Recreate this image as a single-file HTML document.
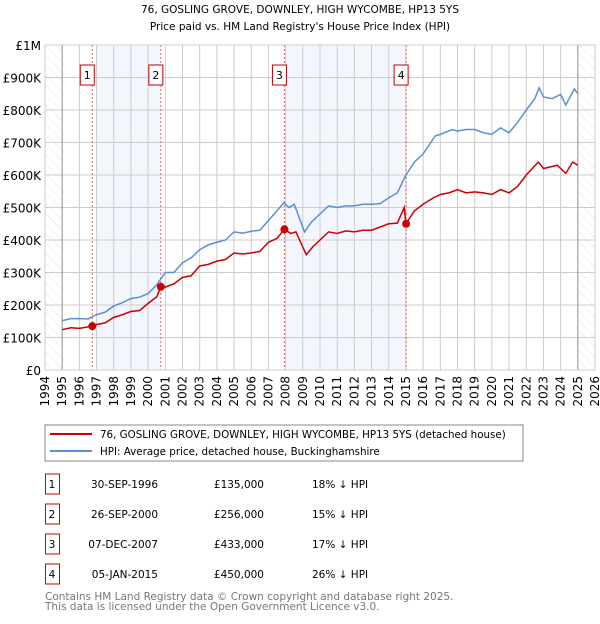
<!DOCTYPE html>
<html><head><meta charset="utf-8"><style>
body{margin:0;background:#fff;font-family:"DejaVu Sans","Liberation Sans",sans-serif;}
svg text{font-family:"DejaVu Sans","Liberation Sans",sans-serif;}
</style></head><body>
<svg id="c" width="600" height="620" xmlns="http://www.w3.org/2000/svg">
<defs><pattern id="hatch" width="7" height="7" patternUnits="userSpaceOnUse" patternTransform="rotate(-45)"><line x1="0" y1="0" x2="0" y2="7" stroke="#ddd" stroke-width="0.8"/></pattern></defs>
<text x="300" y="13" text-anchor="middle" font-size="10.5">76, GOSLING GROVE, DOWNLEY, HIGH WYCOMBE, HP13 5YS</text>
<text x="300" y="30" text-anchor="middle" font-size="10.5">Price paid vs. HM Land Registry's House Price Index (HPI)</text>
<g id="plot"></g>
<rect x="45" y="425" width="478" height="36" fill="none" stroke="#888"/>
<line x1="50" y1="434" x2="92" y2="434" stroke="#cc0000" stroke-width="2"/>
<text x="100" y="438" font-size="10.3">76, GOSLING GROVE, DOWNLEY, HIGH WYCOMBE, HP13 5YS (detached house)</text>
<line x1="50" y1="451" x2="92" y2="451" stroke="#5b8fd4" stroke-width="2"/>
<text x="100" y="455" font-size="10.3">HPI: Average price, detached house, Buckinghamshire</text>
<g id="table" font-size="10.5"></g>
<text x="45" y="600" font-size="10.5" fill="#777">Contains HM Land Registry data © Crown copyright and database right 2025.</text>
<text x="45" y="610" font-size="10.5" fill="#777">This data is licensed under the Open Government Licence v3.0.</text>
</svg>
<script>
const hpiYears=[1995,1995.5,1996,1996.5,1997,1997.5,1998,1998.5,1999,1999.5,2000,2000.5,2001,2001.5,2002,2002.5,2003,2003.5,2004,2004.5,2005,2005.5,2006,2006.5,2007,2007.5,2007.9,2008.2,2008.5,2009.1,2009.5,2010,2010.5,2011,2011.5,2012,2012.5,2013,2013.5,2014,2014.5,2015,2015.5,2016,2016.7,2017,2017.7,2018,2018.5,2019,2019.5,2020,2020.5,2021,2021.5,2022,2022.5,2022.75,2023,2023.5,2024,2024.3,2024.8,2025];
const hpiValues=[152,158,158,157,170,178,197,207,220,224,235,262,300,300,330,345,370,385,393,400,425,421,427,430,460,490,515,500,510,425,455,480,505,500,505,505,510,510,512,530,545,600,640,665,720,725,740,735,740,740,730,725,745,730,762,800,835,868,840,835,848,815,865,850];
const redYears=[1995,1995.5,1996,1996.75,1997,1997.5,1998,1998.5,1999,1999.5,2000,2000.5,2000.74,2001,2001.5,2002,2002.5,2003,2003.5,2004,2004.5,2005,2005.5,2006,2006.5,2007,2007.5,2007.93,2008.3,2008.6,2009.2,2009.6,2010,2010.5,2011,2011.5,2012,2012.5,2013,2013.5,2014,2014.5,2014.9,2015.0,2015.5,2016,2016.6,2017,2017.5,2018,2018.5,2019,2019.5,2020,2020.5,2021,2021.5,2022,2022.7,2023,2023.8,2024.3,2024.7,2025];
const redValues=[124,130,128,135,140,145,162,170,180,183,205,225,256,255,265,285,290,320,325,335,340,360,357,360,365,393,405,433,420,425,355,380,400,425,420,428,425,430,430,440,450,452,500,450,490,510,530,540,545,555,545,548,545,540,555,545,565,600,640,620,630,605,640,630];
const saleYears=[1996.75,2000.74,2007.93,2015.01];
const saleValues=[135,256,433,450];
const saleLabels=["1","2","3","4"];
const saleDates=["30-SEP-1996","26-SEP-2000","07-DEC-2007","05-JAN-2015"];
const salePrices=["£135,000","£256,000","£433,000","£450,000"];
const saleDiffs=["18% ↓ HPI","15% ↓ HPI","17% ↓ HPI","26% ↓ HPI"];
const yTicks=[0,100,200,300,400,500,600,700,800,900,1000];
const yTickLabels=["£0","£100K","£200K","£300K","£400K","£500K","£600K","£700K","£800K","£900K","£1M"];
const xTicks=[1994,1995,1996,1997,1998,1999,2000,2001,2002,2003,2004,2005,2006,2007,2008,2009,2010,2011,2012,2013,2014,2015,2016,2017,2018,2019,2020,2021,2022,2023,2024,2025,2026];
const X0=45,X1=595,Y0=370,Y1=45;
const xs=y=>X0+(y-1994)/32*(X1-X0);
const ys=v=>Y0-v/1000*(Y0-Y1);
const NS="http://www.w3.org/2000/svg";
const g=document.getElementById('plot');
function mk(t,a,p){const e=document.createElementNS(NS,t);for(const k in a)e.setAttribute(k,a[k]);(p||g).appendChild(e);return e;}
let e;
e=mk('rect',{x:xs(1997),y:Y1,width:xs(2000.74)-xs(1997),height:Y0-Y1,fill:'#eef3fc',opacity:0.7});


e=mk('rect',{x:xs(2007.93),y:Y1,width:xs(2015.01)-xs(2007.93),height:Y0-Y1,fill:'#eef3fc',opacity:0.7});


xTicks.forEach(t=>{
 e=mk('line',{x1:xs(t),y1:Y1,x2:xs(t),y2:Y0,stroke:'#ccc'});
 
 
 e=mk('text',{x:0,y:0,'font-size':12,'text-anchor':'end',transform:`translate(${xs(t)+4},${Y0+6}) rotate(-90)`});
 e.textContent=t;
 
 
});
yTicks.forEach((t,i)=>{
 e=mk('line',{x1:X0,y1:ys(t),x2:X1,y2:ys(t),stroke:'#ccc'});
 
 
 e=mk('text',{x:X0-4,y:ys(t)+5,'font-size':12,'text-anchor':'end'});
 e.textContent=yTickLabels[i];
 
 
});
e=mk('rect',{x:X0,y:Y1,width:xs(1995)-X0,height:Y0-Y1,fill:'url(#hatch)'});


e=mk('rect',{x:xs(2025),y:Y1,width:X1-xs(2025),height:Y0-Y1,fill:'url(#hatch)'});


e=mk('line',{x1:xs(1995),y1:Y1,x2:xs(1995),y2:Y0,stroke:'#999'});


e=mk('line',{x1:xs(2025),y1:Y1,x2:xs(2025),y2:Y0,stroke:'#999'});


saleYears.forEach((y,i)=>{
 e=mk('line',{x1:xs(y),y1:Y1,x2:xs(y),y2:Y0,stroke:'#e06060','stroke-dasharray':'2,2'});
 
 
 e=mk('rect',{x:xs(y)-12,y:65,width:14,height:20,fill:'#fff',stroke:'#b00'});
 
 
 e=mk('text',{x:xs(y)-5,y:79,'font-size':11,'text-anchor':'middle'});
 e.textContent=saleLabels[i];
 
 
});
e=mk('polyline',{points:hpiYears.map((y,i)=>xs(y)+','+ys(hpiValues[i])).join(' '),fill:'none',stroke:'#5b8fd4','stroke-width':1.5});


e=mk('polyline',{points:redYears.map((y,i)=>xs(y)+','+ys(redValues[i])).join(' '),fill:'none',stroke:'#cc0000','stroke-width':1.5});


saleYears.forEach((y,i)=>{
 e=mk('circle',{cx:xs(y),cy:ys(saleValues[i]),r:4,fill:'#cc0000'});
 
 
});
e=mk('rect',{x:X0,y:Y1,width:X1-X0,height:Y0-Y1,fill:'none',stroke:'#ccc'});


const tb=document.getElementById('table');
saleLabels.forEach((l,i)=>{
 const cy=483+i*30;
 e=mk('rect',{x:45.5,y:cy-9,width:14,height:20,fill:'none',stroke:'#c00'},tb);
 
 
 e=mk('text',{x:52,y:cy+5,'text-anchor':'middle'},tb);e.textContent=l;
 
 
 e=mk('text',{x:158,y:cy+5,'text-anchor':'end'},tb);e.textContent=saleDates[i];
 
 
 e=mk('text',{x:264,y:cy+5,'text-anchor':'end'},tb);e.textContent=salePrices[i];
 
 
 e=mk('text',{x:312,y:cy+5},tb);e.textContent=saleDiffs[i];
 
 
});
</script>
</body></html>
